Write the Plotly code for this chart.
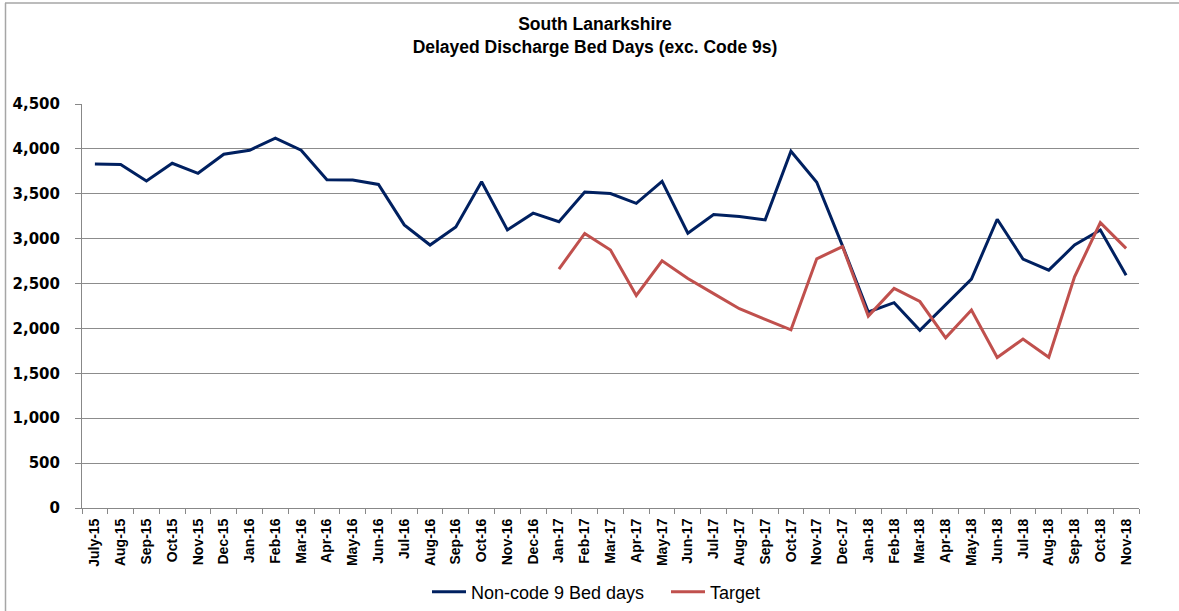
import plotly.graph_objects as go

months = ["July-15", "Aug-15", "Sep-15", "Oct-15", "Nov-15", "Dec-15", "Jan-16", "Feb-16",
          "Mar-16", "Apr-16", "May-16", "Jun-16", "Jul-16", "Aug-16", "Sep-16", "Oct-16",
          "Nov-16", "Dec-16", "Jan-17", "Feb-17", "Mar-17", "Apr-17", "May-17", "Jun-17",
          "Jul-17", "Aug-17", "Sep-17", "Oct-17", "Nov-17", "Dec-17", "Jan-18", "Feb-18",
          "Mar-18", "Apr-18", "May-18", "Jun-18", "Jul-18", "Aug-18", "Sep-18", "Oct-18",
          "Nov-18"]

non_code9 = [3832, 3825, 3642, 3840, 3728, 3940, 3985, 4119, 3985, 3657, 3653, 3604,
             3153, 2929, 3131, 3634, 3097, 3284, 3188, 3519, 3502, 3394, 3638, 3060,
             3269, 3246, 3209, 3974, 3629, 2920, 2183, 2287, 1980, 2265, 2550, 3216,
             2773, 2649, 2929, 3097, 2593]

target = [None] * 18 + [2661, 3058, 2873, 2368, 2754, 2556, 2388, 2220, 2101, 1985,
                        2776, 2912, 2137, 2446, 2300, 1895, 2206, 1676, 1881, 1679,
                        2575, 3179, 2892]

y_ticks = [0, 500, 1000, 1500, 2000, 2500, 3000, 3500, 4000, 4500]

fig = go.Figure()
fig.add_trace(go.Scatter(x=months, y=non_code9, mode="lines", name="Non-code 9 Bed days",
                         line=dict(color="#002060", width=3)))
fig.add_trace(go.Scatter(x=months, y=target, mode="lines", name="Target",
                         line=dict(color="#C0504D", width=3)))

W, H = 1179, 611
L, R, T, B = 82, 40, 104, 103
pw, ph = W - L - R, H - T - B

def px_x(p):
    return (p - L) / pw

def px_y(p):
    return (H - B - p) / ph

fig.update_layout(
    width=W, height=H,
    margin=dict(l=L, r=R, t=T, b=B, autoexpand=False),
    paper_bgcolor="white", plot_bgcolor="white",
    title=dict(text="<b>South Lanarkshire<br>Delayed Discharge Bed Days (exc. Code 9s)</b>",
               x=px_x(595), xref="paper", xanchor="center", y=1 - 30 / H, yanchor="middle",
               font=dict(family="Liberation Sans", size=17.5, color="black")),
    showlegend=True,
    legend=dict(orientation="h", x=px_x(666), xanchor="center", y=px_y(592), yanchor="middle",
                font=dict(family="Liberation Sans", size=18, color="black"),
                itemwidth=34, tracegroupgap=0, entrywidth=190),
    xaxis=dict(type="category", categoryorder="array", categoryarray=months,
               tickangle=-90, tickson="boundaries", ticks="outside", ticklen=5,
               tickcolor="#888888", showline=True, linecolor="#888888", linewidth=1,
               showgrid=False, zeroline=False, ticklabelstandoff=4,
               tickfont=dict(family="Liberation Sans", size=14, color="black", weight="bold"),
               range=[-0.5, len(months) - 0.5]),
    yaxis=dict(range=[0, 4500], tickvals=y_ticks, tickformat=",", ticks="outside",
               ticklen=6, tickcolor="#888888", showline=True, linecolor="#888888",
               linewidth=1, showgrid=True, gridcolor="#8c8c8c", gridwidth=1,
               zeroline=False, ticklabelstandoff=12,
               tickfont=dict(family="DejaVu Sans", size=15, color="black", weight="bold")),
)

# outer chart frame (top and left edges visible in the reference)
fig.add_shape(type="line", xref="paper", yref="paper",
              x0=px_x(5), x1=px_x(W + 5), y0=px_y(3), y1=px_y(3),
              line=dict(color="#a6a6a6", width=1.5))
fig.add_shape(type="line", xref="paper", yref="paper",
              x0=px_x(5.5), x1=px_x(5.5), y0=px_y(3), y1=px_y(H + 5),
              line=dict(color="#a6a6a6", width=1.5))

fig.write_html("out.html", config={"displayModeBar": False},
               post_script="document.body.style.margin='0';document.body.style.overflow='hidden';")
